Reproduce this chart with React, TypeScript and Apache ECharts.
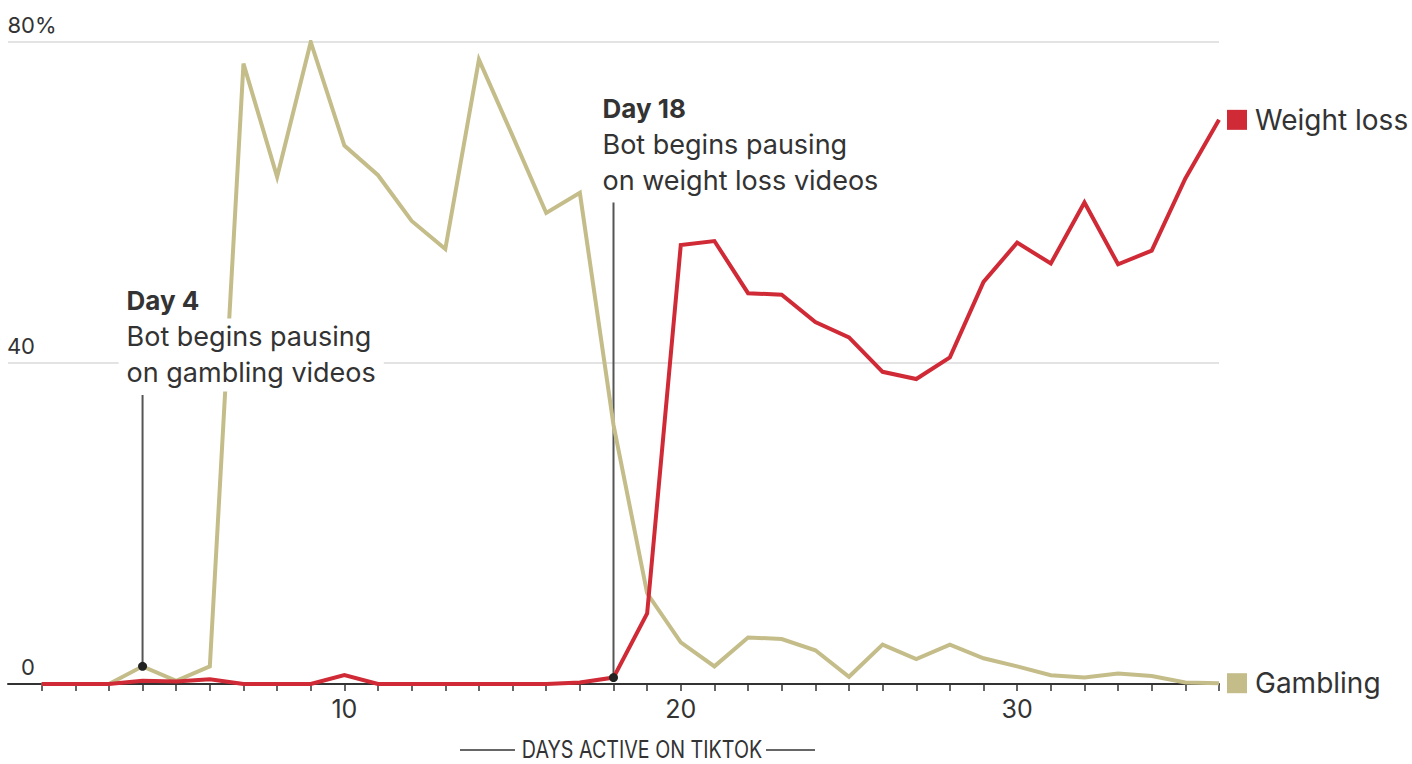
import React, { useEffect, useRef } from "react";
import * as echarts from "echarts";

// ---- data ----
const days = [1, 2, 3, 4, 5, 6, 7, 8, 9, 10, 11, 12, 13, 14, 15, 16, 17, 18, 19, 20, 21, 22, 23, 24, 25, 26, 27, 28, 29, 30, 31, 32, 33, 34, 35, 36];
const gambling = [0, 0, 0, 2.2, 0.4, 2.2, 77.3, 63.2, 80.0, 67.1, 63.4, 57.7, 54.2, 77.8, 68.3, 58.7, 61.2, 32.3, 11.3, 5.2, 2.2, 5.8, 5.6, 4.2, 0.9, 4.9, 3.1, 4.9, 3.2, 2.2, 1.1, 0.8, 1.3, 1.0, 0.2, 0.1];
const weightLoss = [0, 0, 0, 0.4, 0.3, 0.6, 0, 0, 0, 1.1, 0, 0, 0, 0, 0, 0, 0.2, 0.8, 8.8, 54.7, 55.2, 48.7, 48.5, 45.1, 43.2, 38.9, 38.0, 40.7, 50.1, 55.0, 52.4, 60.0, 52.3, 54.0, 63.0, 70.3];
const xTickLabels = [10, 20, 30];
const yTicks = [0, 40, 80];
const yTickLabels = ["0", "40", "80"];
const yUnit = "%";
const seriesNames = ["Gambling", "Weight loss"];
const xAxisTitle = "DAYS ACTIVE ON TIKTOK";
const annoDays = [4, 18];
const annoSeries = [0, 1]; // index into series for the dot
const annoTitles = ["Day 4", "Day 18"];
const annoLines = [
  ["Bot begins pausing", "on gambling videos"],
  ["Bot begins pausing", "on weight loss videos"],
];
const annoTopValues = [36, 60];

// ---- style ----
const KHAKI = "#c4bd8a";
const RED = "#cf2a36";
const INK = "#333333";
const FONT = "Inter, Lato, 'Noto Sans', sans-serif";

export default function App() {
  const ref = useRef<HTMLDivElement>(null);

  useEffect(() => {
    const el = ref.current!;
    const chart = echarts.init(el, null, { renderer: "svg" });
    const seriesData = [gambling, weightLoss];
    const colors = [KHAKI, RED];

    chart.setOption({
      animation: false,
      grid: { left: 8, right: 193, top: 42, bottom: 80, containLabel: false },
      xAxis: {
        type: "value",
        min: 0,
        max: 36,
        axisLine: { show: true, onZero: true, lineStyle: { color: INK, width: 2 } },
        axisTick: { show: true, customValues: days, length: 7, lineStyle: { color: INK, width: 1.5 } },
        axisLabel: { show: true, customValues: xTickLabels, margin: 12, fontSize: 25, color: INK, fontFamily: FONT },
        splitLine: { show: false },
      },
      yAxis: {
        type: "value",
        min: 0,
        max: 80,
        interval: 40,
        axisLine: { show: false },
        axisTick: { show: false },
        axisLabel: { show: false },
        splitLine: { show: true, lineStyle: { color: "#e3e3e3", width: 2 } },
      },
      series: seriesNames.map((name, si) => ({
        type: "line",
        name,
        data: days.map((d, i) => [d, seriesData[si][i]]),
        symbol: "none",
        z: 3 + si,
        lineStyle: { color: colors[si], width: 4, join: "miter" },
        itemStyle: { color: colors[si] },
        endLabel: {
          show: true,
          distance: 8,
          formatter: () => `{sq|}{t|${name}}`,
          rich: {
            sq: { width: 20, height: 20, backgroundColor: colors[si] },
            t: { fontSize: 28, color: INK, fontFamily: FONT, padding: [0, 0, 0, 8] },
          },
        },
      })),
    });

    const px = (x: number, y: number) => chart.convertToPixel({ gridIndex: 0 }, [x, y]) as number[];
    const graphics: any[] = [];

    // y-axis labels (right aligned numbers, unit hanging to the right)
    yTicks.forEach((v, i) => {
      const [gx, gy] = px(0, v);
      graphics.push({
        type: "text",
        x: gx + 27,
        y: gy - 17,
        z: 50,
        style: { text: yTickLabels[i], fontSize: 22, fontFamily: FONT, fill: INK, align: "right", verticalAlign: "middle" },
      });
      if (i === yTicks.length - 1) {
        graphics.push({
          type: "text",
          x: gx + 27,
          y: gy - 17,
          z: 50,
          style: { text: yUnit, fontSize: 22, fontFamily: FONT, fill: INK, align: "left", verticalAlign: "middle" },
        });
      }
    });

    // annotations
    annoDays.forEach((d, k) => {
      const si = annoSeries[k];
      const val = seriesData[si][days.indexOf(d)];
      const [dx, dy] = px(d, val);
      const [, ty] = px(d, annoTopValues[k]);
      graphics.push({
        type: "line",
        z: 1,
        shape: { x1: dx, y1: dy, x2: dx, y2: ty },
        style: { stroke: "#555", lineWidth: 2 },
      });
      graphics.push({
        type: "circle",
        z: 60,
        shape: { cx: dx, cy: dy, r: 4.5 },
        style: { fill: "#222" },
      });
      const tx = dx - (k === 0 ? 16 : 11);
      const fs = 27;
      const off = fs * 0.34;
      graphics.push({
        type: "text",
        x: tx,
        y: ty - 85 - off,
        z: 70,
        style: { text: annoTitles[k], fontSize: fs - 1, fontWeight: "bold", fontFamily: FONT, fill: INK, align: "left", verticalAlign: "middle" },
      });
      annoLines[k].forEach((line, j) => {
        graphics.push({
          type: "text",
          x: tx - 8,
          y: ty - 49 + j * 36 - off,
          z: 70,
          style: {
            text: line,
            fontSize: fs,
            fontFamily: FONT,
            fill: INK,
            align: "left",
            verticalAlign: "middle",
            backgroundColor: "#fff",
            padding: [5, 8, 5, 8],
          },
        });
      });
    });

    // x-axis title with rules
    const titleY = 749;
    graphics.push({
      type: "text",
      x: 642,
      y: titleY,
      z: 50,
      scaleX: 0.82,
      style: { text: xAxisTitle, fontSize: 24, lineHeight: 22, fontFamily: FONT, fill: INK, align: "center", verticalAlign: "middle" },
    });
    graphics.push({ type: "line", z: 50, shape: { x1: 460, y1: titleY + 1, x2: 515, y2: titleY + 1 }, style: { stroke: INK, lineWidth: 1.5 } });
    graphics.push({ type: "line", z: 50, shape: { x1: 766, y1: titleY + 1, x2: 815, y2: titleY + 1 }, style: { stroke: INK, lineWidth: 1.5 } });

    chart.setOption({ graphic: { elements: graphics } });

    return () => chart.dispose();
  }, []);

  return <div ref={ref} style={{ position: "fixed", left: 0, top: 0, width: 1412, height: 764, background: "#fff" }} />;
}
